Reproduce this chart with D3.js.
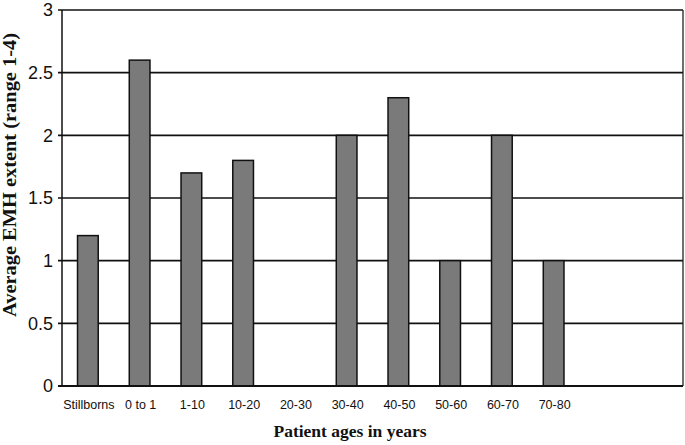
<!DOCTYPE html>
<html><head><meta charset="utf-8">
<script src="https://cdnjs.cloudflare.com/ajax/libs/d3/7.8.5/d3.min.js"></script>
<style>body{margin:0;background:#fff}</style>
</head><body><svg id="c" width="685" height="445"></svg>
<script>
const categories = ["Stillborns","0 to 1","1-10","10-20","20-30","30-40","40-50","50-60","60-70","70-80","",""];
const values = [1.2,2.6,1.7,1.8,0,2.0,2.3,1.0,2.0,1.0,0,0];
const yTicks = [0,0.5,1,1.5,2,2.5,3];
const yTickLabels = ["0","0.5","1","1.5","2","2.5","3"];

const svg = d3.select("#c");
const L=62,R=683,T=10,B=386;
const x = d3.scaleBand().domain(d3.range(categories.length)).range([L,R]).paddingInner(0.6).paddingOuter(0.3);
const y = d3.scaleLinear().domain([0,3]).range([B,T]);

svg.append("g").selectAll("line").data(yTicks).join("line")
  .attr("x1",L-4).attr("x2",R).attr("y1",d=>y(d)).attr("y2",d=>y(d))
  .attr("stroke","#111").attr("stroke-width",1.6);
svg.append("line").attr("x1",R).attr("x2",R).attr("y1",T).attr("y2",B).attr("stroke","#222").attr("stroke-width",1.3);
svg.append("g").selectAll("rect").data(values.map((v,i)=>({v,i})).filter(d=>d.v>0)).join("rect")
  .attr("x",d=>x(d.i)).attr("width",x.bandwidth())
  .attr("y",d=>y(d.v)).attr("height",d=>y(0)-y(d.v))
  .attr("fill","#7a7a7a").attr("stroke","#111").attr("stroke-width",1.5);
svg.append("line").attr("x1",L).attr("x2",L).attr("y1",T).attr("y2",B).attr("stroke","#111").attr("stroke-width",1.5);
svg.append("line").attr("x1",L-4).attr("x2",R).attr("y1",B).attr("y2",B).attr("stroke","#111").attr("stroke-width",1.8);
svg.append("g").selectAll("text").data(yTicks).join("text")
  .attr("x",L-9).attr("y",d=>y(d)).attr("dy","0.36em").attr("text-anchor","end")
  .attr("font-family","Liberation Sans, Arial, sans-serif").attr("font-size",18)
  .attr("fill","#111").text((d,i)=>yTickLabels[i]);
svg.append("g").selectAll("text").data(categories).join("text")
  .attr("x",(d,i)=>x(i)+x.bandwidth()/2+1).attr("y",409).attr("text-anchor","middle")
  .attr("font-family","Liberation Sans, Arial, sans-serif").attr("font-size",12.5)
  .attr("fill","#111").text(d=>d);
svg.append("text").attr("x",350).attr("y",437).attr("text-anchor","middle")
  .attr("font-family","Liberation Serif, Times New Roman, serif").attr("font-weight","bold").attr("font-size",17.5)
  .attr("fill","#111").text("Patient ages in years");
svg.append("text").attr("transform","translate(16,175) rotate(-90)").attr("text-anchor","middle")
  .attr("font-family","Liberation Serif, Times New Roman, serif").attr("font-weight","bold").attr("font-size",19)
  .attr("textLength",284).attr("lengthAdjust","spacingAndGlyphs")
  .attr("fill","#111").text("Average EMH extent (range 1-4)");
</script></body></html>
